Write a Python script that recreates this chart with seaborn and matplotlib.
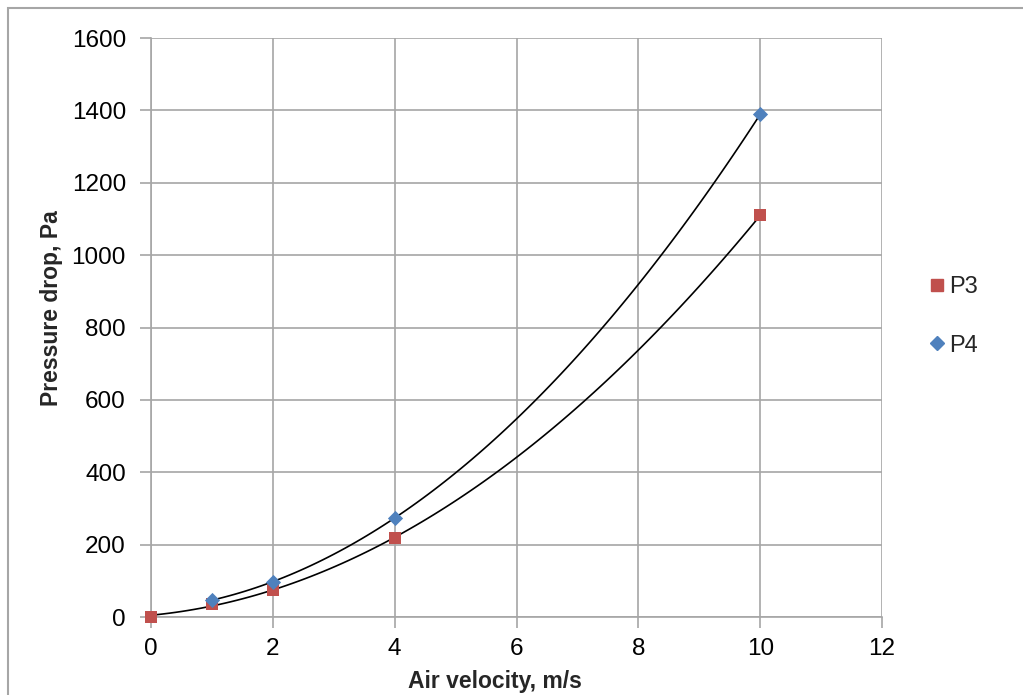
import matplotlib
matplotlib.use("Agg")
import matplotlib.pyplot as plt
import seaborn as sns
import pandas as pd
from matplotlib.patches import Rectangle
from matplotlib.lines import Line2D

sns.set_style("white")
plt.rcParams['font.family'] = ['Liberation Sans', 'DejaVu Sans']

p3_x = [0, 1, 2, 4, 10]
p3_y = [0, 37, 76, 217, 1110]
p4_x = [1, 2, 4, 10]
p4_y = [47, 97, 274, 1389]

df3 = pd.DataFrame({"v": p3_x, "dp": p3_y})
df4 = pd.DataFrame({"v": p4_x, "dp": p4_y})

red = "#C0504D"
blue = "#4F81BD"
grid_c = "#A6A6A6"

fig = plt.figure(figsize=(10.23, 6.95), dpi=100)
ax = fig.add_axes([0.1476, 0.1122, 0.7146, 0.8331])

for df in (df3, df4):
    sns.regplot(data=df, x="v", y="dp", order=2, ci=None, truncate=True,
                scatter=False, ax=ax, line_kws=dict(color="black", lw=1.2))
sns.scatterplot(data=df3, x="v", y="dp", marker="s", color=red, s=75,
                edgecolor=red, linewidth=0, ax=ax, zorder=5, clip_on=False)
sns.scatterplot(data=df4, x="v", y="dp", marker="D", color=blue, s=60,
                edgecolor=blue, linewidth=0, ax=ax, zorder=5, clip_on=False)

ax.set_xlim(0, 12)
ax.set_ylim(0, 1600)
ax.set_xticks(range(0, 13, 2))
ax.set_yticks(range(0, 1601, 200))
ax.grid(True, color=grid_c, lw=1.2)
ax.set_axisbelow(True)
for s in ax.spines.values():
    s.set_visible(False)
for side in ("left", "bottom"):
    ax.spines[side].set_visible(True)
    ax.spines[side].set_color(grid_c)
    ax.spines[side].set_linewidth(1.2)
ax.tick_params(axis='both', direction='out', length=8, width=1.2, color=grid_c,
               labelsize=17.5, labelcolor="black", bottom=True, left=True)
ax.tick_params(axis='y', pad=10)
ax.tick_params(axis='x', pad=7)
ax.set_xlabel("Air velocity, m/s", fontsize=16.5, fontweight="bold")
ax.set_ylabel("Pressure drop, Pa", fontsize=16.5, fontweight="bold")
ax.xaxis.set_label_coords(0.47, -0.092)
ax.yaxis.set_label_coords(-0.12, 0.534)

handles = [Line2D([], [], marker="s", color=red, ls="", markersize=8),
           Line2D([], [], marker="D", color=blue, ls="", markersize=7)]
leg = fig.legend(handles, ["P3", "P4"], loc="center left", bbox_to_anchor=(0.886, 0.545),
                 frameon=False, fontsize=17, handletextpad=0.1, labelspacing=1.55,
                 handlelength=0.8)

fig.patches.append(Rectangle((8/1023, -0.05), 1.1, 0.05 + 687/695, transform=fig.transFigure,
                             fill=False, edgecolor=grid_c, lw=1.5))

fig.savefig("out.png", dpi=100)
